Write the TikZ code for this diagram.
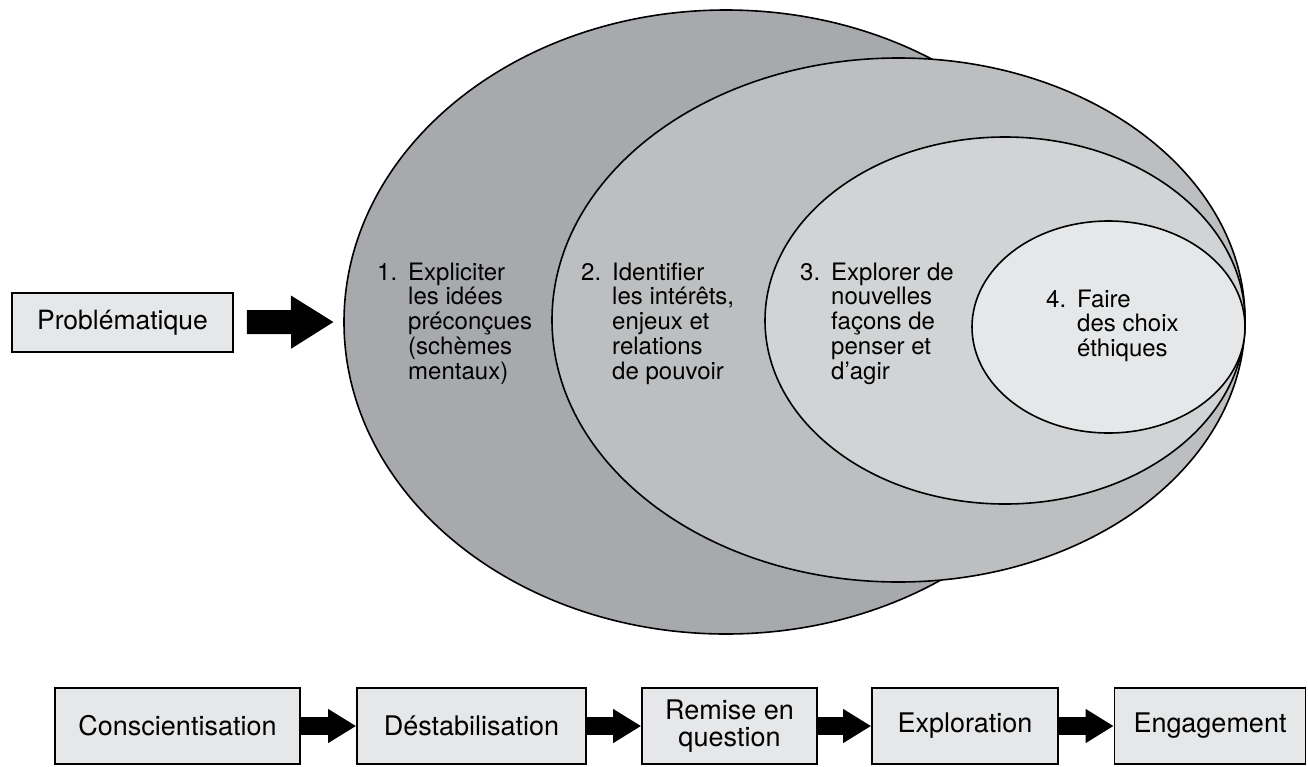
\documentclass[tikz,border=0pt]{standalone}
\usepackage{fontspec}
\setmainfont{TeX Gyre Heros}
\usetikzlibrary{positioning, shapes.geometric, arrows.meta}

\definecolor{grayA}{HTML}{A7A9AC}
\definecolor{grayB}{HTML}{BCBEC0}
\definecolor{grayC}{HTML}{D1D3D4}
\definecolor{grayD}{HTML}{E6E7E8}

\tikzset{
    ring/.style={ellipse, draw, line width=1.6pt, inner sep=0pt, outer sep=0pt},
    stage/.style={draw, line width=1.6pt, fill=grayD, minimum height=76pt, inner sep=0pt,
        align=center, font=\fontsize{27}{27}\selectfont},
    steptext/.style={anchor=base west, inner sep=0pt, font=\fontsize{24}{24.5}\selectfont},
    flow/.style={line width=18pt, -{Triangle[length=28pt, width=32pt]}},
    bigflow/.style={line width=24pt, -{Triangle[length=43pt, width=50pt]}}
}

\newcommand{\steplist}[2]{\begin{tabular}[t]{@{}l@{\hspace{11pt}}l@{}}#1 & #2\end{tabular}}

\begin{document}
\begin{tikzpicture}[x=1pt, y=-1pt]
                    \useasboundingbox (0,0) rectangle (1308,766);

                    % nested ellipses
                    \node [ring, fill=grayA, minimum width=764pt, minimum height=624pt] (ring1) at (726, 322) {};
                    \node [ring, fill=grayB, minimum width=693pt, minimum height=524pt] (ring2) at (898.5, 320) {};
                    \node [ring, fill=grayC, minimum width=480pt, minimum height=367pt] (ring3) at (1005, 320.5) {};
                    \node [ring, fill=grayD, minimum width=273pt, minimum height=212pt] (ring4) at (1108.5, 327) {};

                    \node [steptext] (explicit) at (377, 280) {\steplist{1.}{Expliciter\\ & les idées\\ & préconçues\\ & (schèmes\\ & mentaux)}};
                    \node [steptext] (identify) at (581, 280) {\steplist{2.}{Identifier\\ & les intérêts,\\ & enjeux et\\ & relations\\ & de pouvoir}};
                    \node [steptext] (explore) at (800, 280) {\steplist{3.}{Explorer de\\ & nouvelles\\ & façons de\\ & penser et\\ & d’agir}};
                    \node [steptext] (choose) at (1046, 307) {\steplist{4.}{Faire\\ & des choix\\ & éthiques}};

                    \node [stage, minimum width=221pt, minimum height=59pt, font=\fontsize{26.5}{27}\selectfont] (prob) at (122.5, 322.5) {Problématique};

                    % stages
                    \node [stage, minimum width=245pt] (consc) at (177.5, 726) {Conscientisation};
                    \node [stage, minimum width=229pt] (destab) at (471.5, 726) {Déstabilisation};
                    \node [stage, minimum width=175pt] (remise) at (729.5, 726) {Remise en\\question};
                    \node [stage, minimum width=186pt] (explo) at (965, 726) {Exploration};
                    \node [stage, minimum width=191pt] (engag) at (1210, 726) {Engagement};

                    \draw [bigflow, shorten <=13pt, shorten >=10pt] (prob) -- (ring1.west);
                    \draw [flow] (consc) -- (destab);
                    \draw [flow] (destab) -- (remise);
                    \draw [flow] (remise) -- (explo);
                    \draw [flow] (explo) -- (engag);
                \end{tikzpicture}
\end{document}
